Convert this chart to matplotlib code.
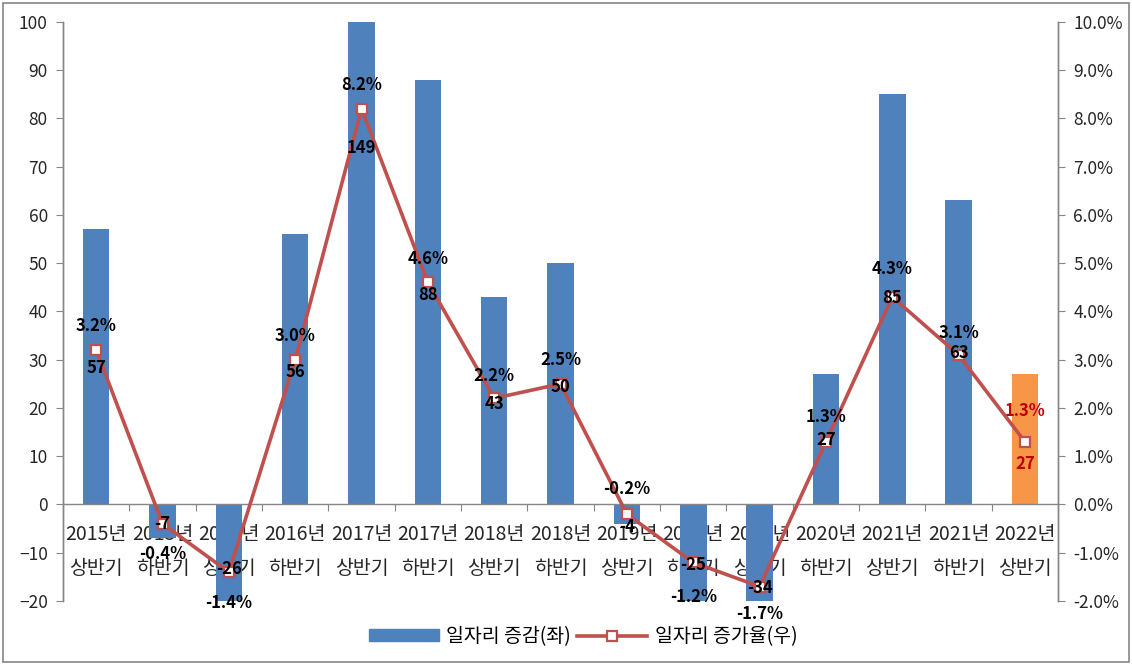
import numpy as np
import matplotlib.pyplot as plt
from matplotlib.patches import Rectangle
from matplotlib.ticker import FuncFormatter, FixedLocator

plt.rcParams['font.family'] = ['Noto Sans CJK KR', 'DejaVu Sans']

# data
years = ['2015년', '2015년', '2016년', '2016년', '2017년', '2017년', '2018년', '2018년',
         '2019년', '2019년', '2020년', '2020년', '2021년', '2021년', '2022년']
halves = ['상반기', '하반기', '상반기', '하반기', '상반기', '하반기', '상반기', '하반기',
          '상반기', '하반기', '상반기', '하반기', '상반기', '하반기', '상반기']
jobs = [57, -7, -26, 56, 149, 88, 43, 50, -4, -25, -34, 27, 85, 63, 27]
rate = [3.2, -0.4, -1.4, 3.0, 8.2, 4.6, 2.2, 2.5, -0.2, -1.2, -1.7, 1.3, 4.3, 3.1, 1.3]

# label offsets (points) relative to the line marker
rate_off = [17, -22, -22, 17, 17, 17, 16, 17, 18, -25, -20, 18, 20, 16, 22]
jobs_off = [-13, 0, 2, -9, -28, -9, -4, -2, -9, -2, -1, 1, -1, 1, -16]

blue = '#4F81BD'
orange = '#F79646'
red = '#C0504D'
n = len(jobs)
x = np.arange(n)
colors = [blue] * (n - 1) + [orange]

fig = plt.figure(figsize=(11.32, 6.65), dpi=100)
ax = fig.add_axes([0.0557, 0.0962, 0.879, 0.871])
ax2 = ax.twinx()

ax.bar(x, jobs, width=0.4, color=colors, zorder=2)
ax.set_ylim(-20, 100)
ax.set_xlim(-0.5, n - 0.5)
ax.set_yticks(np.arange(-20, 101, 10))

ax2.plot(x, rate, color=red, lw=2.6, marker='s', ms=7.5, mfc='white',
         mec=red, mew=1.6, zorder=3)
ax2.set_ylim(-2, 10)
ax2.set_yticks(np.arange(-2, 10.1, 1))
ax2.yaxis.set_major_formatter(FuncFormatter(lambda v, p: f'{v:.1f}%'))

ax.spines['top'].set_visible(False)
ax2.spines['top'].set_visible(False)
ax2.spines['bottom'].set_visible(False)
ax.spines['bottom'].set_position(('data', 0))
for a in (ax, ax2):
    for sp in a.spines.values():
        sp.set_color('#868686')
        sp.set_linewidth(1)

ax.xaxis.set_major_locator(FixedLocator(np.arange(-0.5, n, 1)))
ax.xaxis.set_minor_locator(FixedLocator(x))
ax.set_xticklabels([], minor=False)
ax.set_xticklabels([f'{y}\n{h}' for y, h in zip(years, halves)], minor=True)
ax.tick_params(axis='x', which='major', length=5, color='#868686', direction='out')
ax.tick_params(axis='x', which='minor', length=0, pad=14, labelsize=14,
               colors='#262626')
for t in ax.get_xticklabels(minor=True):
    t.set_linespacing(1.8)
ax.tick_params(axis='y', length=5, color='#868686', labelsize=12.5,
               labelcolor='#262626', pad=6)
ax2.tick_params(axis='y', length=5, color='#868686', labelsize=12.5,
                labelcolor='#262626', pad=6)

for i in range(n):
    c = '#C00000' if i == n - 1 else 'black'
    ax2.annotate(f'{rate[i]:.1f}%', (x[i], rate[i]), xytext=(0, rate_off[i]),
                 textcoords='offset points', ha='center', va='center',
                 fontsize=12, fontweight='bold', color=c, zorder=5,
                 annotation_clip=False)
    ax2.annotate(f'{jobs[i]}', (x[i], rate[i]), xytext=(0, jobs_off[i]),
                 textcoords='offset points', ha='center', va='center',
                 fontsize=12, fontweight='bold', color=c, zorder=5,
                 annotation_clip=False)

h1 = Rectangle((0, 0), 1, 1, color=blue)
h2, = ax2.plot([], [], color=red, lw=2.6, marker='s', ms=7.5, mfc='white', mec=red, mew=1.6)
fig.legend([h1, h2], ['일자리 증감(좌)', '일자리 증가율(우)'], loc='center',
           bbox_to_anchor=(0.515, 0.043), ncol=2, frameon=False, fontsize=14,
           handlelength=3.6, handleheight=0.5, columnspacing=0.3, handletextpad=0.4)

fig.patches.append(Rectangle((0.003, 0.004), 0.994, 0.991, transform=fig.transFigure,
                             fill=False, edgecolor='#868686', lw=1.2))

fig.savefig('out.png', dpi=100)
